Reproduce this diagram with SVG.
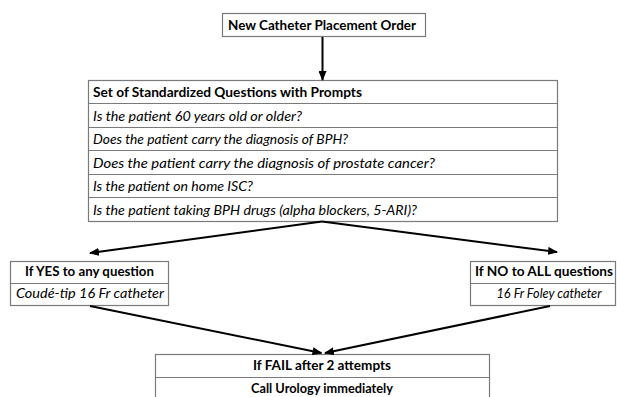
<svg xmlns="http://www.w3.org/2000/svg" width="617" height="397" viewBox="0 0 617 397">
<defs>
<marker id="ah" markerUnits="userSpaceOnUse" markerWidth="10" markerHeight="8" refX="9" refY="4" orient="auto">
<path d="M0,0 L10,4 L0,8 Z" fill="#000"/>
</marker>
<style>
.box{fill:#fff;stroke:#7a7a7a;stroke-width:1.2}
.sep{stroke:#7a7a7a;stroke-width:1.2}
.b{font-family:Lato,"Liberation Sans",sans-serif;font-weight:bold;font-size:13.5px;fill:#000}
.i{font-family:Lato,"Liberation Sans",sans-serif;font-style:italic;font-size:13.5px;fill:#000}
.c{stroke:#000;stroke-width:2;fill:none;marker-end:url(#ah)}
</style>
</defs>
<rect width="617" height="397" fill="#fff"/>
<g id="order">
<rect class="box" x="222.5" y="13.5" width="203" height="23"/>
<text class="b" x="228" y="29.5" textLength="188" lengthAdjust="spacingAndGlyphs">New Catheter Placement Order</text>
</g>
<g id="questions">
<rect class="box" x="88.5" y="80.5" width="469" height="141"/>
<line class="sep" x1="88.5" y1="103.5" x2="557.5" y2="103.5"/>
<line class="sep" x1="88.5" y1="127.5" x2="557.5" y2="127.5"/>
<line class="sep" x1="88.5" y1="150.5" x2="557.5" y2="150.5"/>
<line class="sep" x1="88.5" y1="174.5" x2="557.5" y2="174.5"/>
<line class="sep" x1="88.5" y1="197.5" x2="557.5" y2="197.5"/>
<text class="b" x="93" y="96.5" textLength="269" lengthAdjust="spacingAndGlyphs">Set of Standardized Questions with Prompts</text>
<text class="i" x="93" y="120.5" textLength="209" lengthAdjust="spacingAndGlyphs">Is the patient 60 years old or older?</text>
<text class="i" x="93" y="144" textLength="255" lengthAdjust="spacingAndGlyphs">Does the patient carry the diagnosis of BPH?</text>
<text class="i" x="93" y="167.5" textLength="342" lengthAdjust="spacingAndGlyphs">Does the patient carry the diagnosis of prostate cancer?</text>
<text class="i" x="93" y="191" textLength="160" lengthAdjust="spacingAndGlyphs">Is the patient on home ISC?</text>
<text class="i" x="93" y="214.5" textLength="324" lengthAdjust="spacingAndGlyphs">Is the patient taking BPH drugs (alpha blockers, 5-ARI)?</text>
</g>
<g id="yes">
<rect class="box" x="10.5" y="261.5" width="158" height="44"/>
<line class="sep" x1="10.5" y1="283.5" x2="168.5" y2="283.5"/>
<text class="b" x="89.5" y="276" text-anchor="middle" textLength="129" lengthAdjust="spacingAndGlyphs">If YES to any question</text>
<text class="i" x="90" y="298" text-anchor="middle" textLength="148" lengthAdjust="spacingAndGlyphs">Coudé-tip 16 Fr catheter</text>
</g>
<g id="no">
<rect class="box" x="470.5" y="261.5" width="145" height="44"/>
<line class="sep" x1="470.5" y1="283.5" x2="615.5" y2="283.5"/>
<text class="b" x="544" y="276" text-anchor="middle" textLength="138" lengthAdjust="spacingAndGlyphs">If NO to ALL questions</text>
<text class="i" x="549" y="298" text-anchor="middle" textLength="105" lengthAdjust="spacingAndGlyphs">16 Fr Foley catheter</text>
</g>
<g id="fail">
<rect class="box" x="155.5" y="354.5" width="334" height="60"/>
<line class="sep" x1="155.5" y1="377.5" x2="489.5" y2="377.5"/>
<text class="b" x="322" y="370" text-anchor="middle" textLength="138" lengthAdjust="spacingAndGlyphs">If FAIL after 2 attempts</text>
<text class="b" x="322" y="393" text-anchor="middle" textLength="142" lengthAdjust="spacingAndGlyphs">Call Urology immediately</text>
</g>
<g id="connectors">
<line class="c" x1="322.5" y1="37" x2="322.5" y2="80" stroke-width="2.5"/>
<line class="c" x1="322" y1="221.5" x2="90" y2="253"/>
<line class="c" x1="322" y1="221.5" x2="557" y2="252"/>
<line class="c" x1="90" y1="306" x2="321.5" y2="353"/>
<line class="c" x1="550" y1="306" x2="325" y2="353"/>
</g>
</svg>
